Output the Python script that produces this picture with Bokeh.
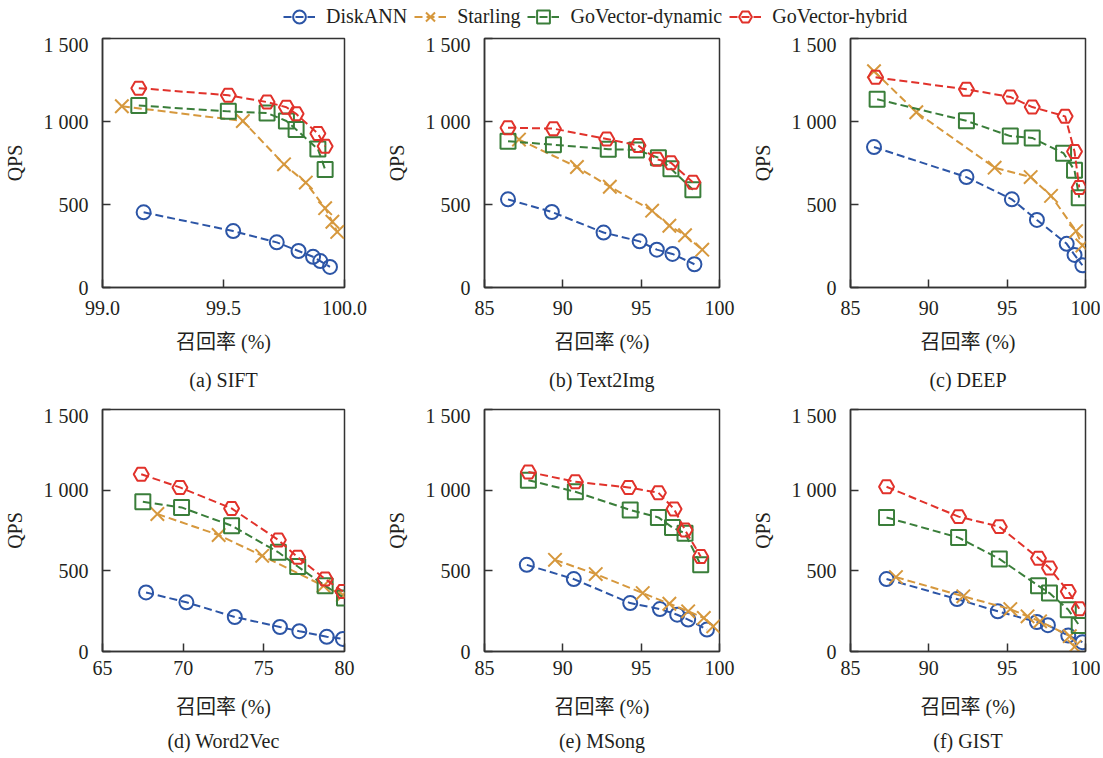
from bokeh.plotting import figure
from bokeh.models import Range1d, FixedTicker, Legend, LegendItem, Title
from bokeh.layouts import column, row
from bokeh.embed import file_html
from bokeh.resources import INLINE

SERIES = ["DiskANN", "Starling", "GoVector-dynamic", "GoVector-hybrid"]
COLORS = ["#2C55A6", "#D6983D", "#3A7E3A", "#E1322B"]
MARKERS = ["circle", "x", "square", "hex"]
MSIZE = [14, 19, 15, 15]

QPS_TICKS = [0, 500, 1000, 1500]
QPS_LABELS = ["0", "500", "1 000", "1 500"]

# (a) SIFT
sift_x_ticks = [99.0, 99.5, 100.0]
sift_x_labels = ["99.0", "99.5", "100.0"]
sift_diskann_r = [99.17, 99.54, 99.72, 99.81, 99.87, 99.90, 99.94]
sift_diskann_q = [453, 340, 272, 220, 185, 159, 124]
sift_starling_r = [99.08, 99.58, 99.75, 99.84, 99.92, 99.95, 99.97]
sift_starling_q = [1092, 1003, 742, 632, 478, 396, 335]
sift_dyn_r = [99.15, 99.52, 99.68, 99.76, 99.80, 99.89, 99.92]
sift_dyn_q = [1096, 1061, 1051, 1003, 952, 834, 711]
sift_hyb_r = [99.15, 99.52, 99.68, 99.76, 99.80, 99.89, 99.92]
sift_hyb_q = [1201, 1158, 1117, 1086, 1046, 927, 851]

# (b) Text2Img
t2i_diskann_r = [86.5, 89.3, 92.6, 94.9, 96.0, 97.0, 98.4]
t2i_diskann_q = [531, 455, 331, 278, 228, 202, 140]
t2i_starling_r = [87.2, 90.9, 93.0, 95.7, 96.8, 97.8, 98.9]
t2i_starling_q = [891, 726, 607, 463, 372, 315, 228]
t2i_dyn_r = [86.5, 89.4, 92.9, 94.7, 96.1, 96.9, 98.3]
t2i_dyn_q = [881, 860, 833, 829, 782, 716, 589]
t2i_hyb_r = [86.5, 89.4, 92.8, 94.8, 96.0, 96.9, 98.3]
t2i_hyb_q = [963, 957, 895, 856, 772, 751, 634]

# (c) DEEP
deep_diskann_r = [86.5, 92.4, 95.3, 96.9, 98.8, 99.3, 99.8]
deep_diskann_q = [846, 665, 531, 407, 263, 196, 134]
deep_starling_r = [86.5, 89.2, 94.2, 96.5, 97.8, 99.4, 99.8]
deep_starling_q = [1303, 1056, 722, 665, 552, 340, 253]
deep_dyn_r = [86.7, 92.4, 95.2, 96.6, 98.6, 99.3, 99.6]
deep_dyn_q = [1134, 1004, 912, 901, 809, 706, 541]
deep_hyb_r = [86.6, 92.4, 95.2, 96.6, 98.7, 99.3, 99.6]
deep_hyb_q = [1266, 1194, 1148, 1087, 1031, 819, 603]

# (d) Word2Vec
w2v_diskann_r = [67.7, 70.2, 73.2, 76.0, 77.2, 78.9, 79.9]
w2v_diskann_q = [366, 305, 214, 152, 126, 91, 78]
w2v_starling_r = [68.4, 72.2, 74.9, 78.7, 79.9]
w2v_starling_q = [852, 722, 593, 407, 350]
w2v_dyn_r = [67.5, 69.9, 73.0, 75.9, 77.1, 78.8, 80.0]
w2v_dyn_q = [928, 893, 780, 615, 527, 407, 331]
w2v_hyb_r = [67.4, 69.8, 73.0, 75.9, 77.1, 78.8, 79.9]
w2v_hyb_q = [1099, 1017, 887, 691, 584, 449, 372]

# (e) MSong
msong_diskann_r = [87.7, 90.7, 94.3, 96.2, 97.3, 98.0, 99.2]
msong_diskann_q = [537, 449, 300, 263, 228, 198, 136]
msong_starling_r = [89.5, 92.1, 95.1, 96.8, 98.0, 99.0, 99.6]
msong_starling_q = [568, 480, 362, 296, 249, 208, 156]
msong_dyn_r = [87.8, 90.8, 94.3, 96.1, 97.0, 97.8, 98.8]
msong_dyn_q = [1062, 990, 877, 831, 768, 733, 537]
msong_hyb_r = [87.8, 90.8, 94.2, 96.1, 97.1, 97.8, 98.8]
msong_hyb_q = [1113, 1052, 1017, 984, 883, 753, 589]

# (f) GIST
gist_diskann_r = [87.3, 91.8, 94.4, 96.9, 97.6, 98.9, 99.8]
gist_diskann_q = [449, 325, 249, 183, 163, 99, 58]
gist_starling_r = [87.9, 92.2, 95.2, 96.3, 97.1, 99.0, 99.3]
gist_starling_q = [461, 342, 263, 218, 187, 95, 29]
gist_dyn_r = [87.3, 91.9, 94.5, 97.0, 97.7, 98.9, 99.6]
gist_dyn_q = [831, 706, 574, 407, 362, 259, 161]
gist_hyb_r = [87.3, 91.9, 94.5, 97.0, 97.7, 98.9, 99.6]
gist_hyb_q = [1021, 836, 774, 578, 517, 372, 265]

std_ticks = [85, 90, 95, 100]
std_labels = ["85", "90", "95", "100"]
w2v_ticks = [65, 70, 75, 80]
w2v_labels = ["65", "70", "75", "80"]

FONT = "Liberation Serif"
CJK_FONT = "Liberation Serif, Noto Sans CJK SC"
TXT = "#231F20"
FS = "20px"
AX = "#333333"


def add_series(p, rs, qs):
    out = []
    for i in range(4):
        lr = p.line(rs[i], qs[i], line_color=COLORS[i], line_width=2, line_dash="8 4")
        sr = p.scatter(rs[i], qs[i], marker=MARKERS[i], size=MSIZE[i],
                       line_color=COLORS[i], line_width=2, fill_alpha=0)
        out.append((lr, sr))
    return out


def make_fig(width, height, left, right, top, bottom, sd, xr, xticks, xlabels, rs, qs, caption):
    p = figure(width=width, height=height, output_backend="svg", toolbar_location=None,
               x_range=Range1d(*xr), y_range=Range1d(0, 1500),
               min_border_left=left, min_border_right=right, min_border_top=top,
               min_border_bottom=bottom)
    p.grid.visible = False
    p.outline_line_color = AX
    p.outline_line_width = 1.5
    p.background_fill_color = "white"
    p.border_fill_color = "white"
    add_series(p, rs, qs)
    p.xaxis.ticker = FixedTicker(ticks=xticks)
    p.xaxis.major_label_overrides = {t: l for t, l in zip(xticks, xlabels)}
    p.yaxis.ticker = FixedTicker(ticks=QPS_TICKS)
    p.yaxis.major_label_overrides = {t: l for t, l in zip(QPS_TICKS, QPS_LABELS)}
    for ax in (p.xaxis, p.yaxis):
        ax.major_tick_in = 8
        ax.major_tick_out = 0
        ax.minor_tick_line_color = None
        ax.axis_line_color = AX
        ax.axis_line_width = 1.5
        ax.major_tick_line_color = AX
        ax.major_tick_line_width = 1.5
        ax.major_label_text_font = FONT
        ax.major_label_text_font_size = FS
        ax.major_label_text_color = TXT
        ax.axis_label_text_font_size = FS
        ax.axis_label_text_font_style = "normal"
        ax.axis_label_text_color = TXT
    p.xaxis.axis_label_text_font = CJK_FONT
    p.yaxis.axis_label_text_font = FONT
    p.xaxis.major_label_standoff = sd[0]
    p.yaxis.major_label_standoff = 14
    p.xaxis.axis_label = "召回率 (%)"
    p.xaxis.axis_label_standoff = sd[1]
    p.yaxis.axis_label = "QPS"
    p.yaxis.axis_label_standoff = 15
    p.add_layout(Title(text=caption, align="center", text_font=FONT, text_font_size=FS,
                       text_font_style="normal", text_color=TXT, standoff=sd[2]), "below")
    return p


W = [382, 366, 352]
L = [102, 94, 94]
R = [38, 29, 15]
H1, T1, B1, S1 = 371, 5, 117, (13, 13, 22)
H2, T2, B2, S2 = 354, 5, 105, (9, 18, 14)

pa = make_fig(W[0], H1, L[0], R[0], T1, B1, S1, (99.0, 100.0), sift_x_ticks, sift_x_labels,
              [sift_diskann_r, sift_starling_r, sift_dyn_r, sift_hyb_r],
              [sift_diskann_q, sift_starling_q, sift_dyn_q, sift_hyb_q], "(a) SIFT")
pb = make_fig(W[1], H1, L[1], R[1], T1, B1, S1, (85, 100), std_ticks, std_labels,
              [t2i_diskann_r, t2i_starling_r, t2i_dyn_r, t2i_hyb_r],
              [t2i_diskann_q, t2i_starling_q, t2i_dyn_q, t2i_hyb_q], "(b) Text2Img")
pc = make_fig(W[2], H1, L[2], R[2], T1, B1, S1, (85, 100), std_ticks, std_labels,
              [deep_diskann_r, deep_starling_r, deep_dyn_r, deep_hyb_r],
              [deep_diskann_q, deep_starling_q, deep_dyn_q, deep_hyb_q], "(c) DEEP")
pd_ = make_fig(W[0], H2, L[0], R[0], T2, B2, S2, (65, 80), w2v_ticks, w2v_labels,
               [w2v_diskann_r, w2v_starling_r, w2v_dyn_r, w2v_hyb_r],
               [w2v_diskann_q, w2v_starling_q, w2v_dyn_q, w2v_hyb_q], "(d) Word2Vec")
pe = make_fig(W[1], H2, L[1], R[1], T2, B2, S2, (85, 100), std_ticks, std_labels,
              [msong_diskann_r, msong_starling_r, msong_dyn_r, msong_hyb_r],
              [msong_diskann_q, msong_starling_q, msong_dyn_q, msong_hyb_q], "(e) MSong")
pf = make_fig(W[2], H2, L[2], R[2], T2, B2, S2, (85, 100), std_ticks, std_labels,
              [gist_diskann_r, gist_starling_r, gist_dyn_r, gist_hyb_r],
              [gist_diskann_q, gist_starling_q, gist_dyn_q, gist_hyb_q], "(f) GIST")

# legend strip
leg = figure(width=sum(W), height=33, output_backend="svg", toolbar_location=None,
             x_range=Range1d(0, 1), y_range=Range1d(0, 1), min_border=0)
leg.axis.visible = False
leg.grid.visible = False
leg.outline_line_color = None
rends = add_series(leg, [sift_diskann_r, sift_starling_r, sift_dyn_r, sift_hyb_r],
                   [sift_diskann_q, sift_starling_q, sift_dyn_q, sift_hyb_q])
items = [LegendItem(label=SERIES[i], renderers=list(rends[i])) for i in range(4)]
legend = Legend(items=items, orientation="horizontal", location=(283, 0),
                glyph_width=32, glyph_height=33, label_standoff=11, spacing=7,
                padding=0, margin=0, border_line_color=None, background_fill_alpha=0,
                label_text_font=FONT, label_text_font_size=FS, label_text_color=TXT,
                label_height=33)
leg.add_layout(legend, "center")

layout = column(leg, row(pa, pb, pc), row(pd_, pe, pf))
open("out.html", "w").write(file_html(layout, INLINE))
